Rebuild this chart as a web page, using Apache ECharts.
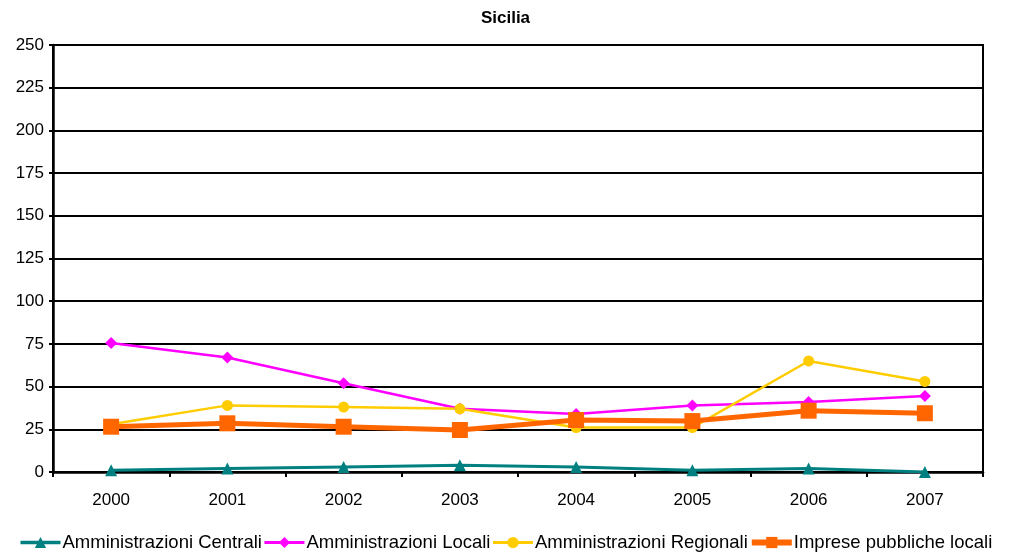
<!DOCTYPE html>
<html><head><meta charset="utf-8">
<script src="https://cdn.jsdelivr.net/npm/echarts@6/dist/echarts.min.js"></script>
<style>html,body{margin:0;padding:0;background:#fff}#c{width:1011px;height:557px}</style>
</head><body><div id="c"></div>
<script>
const years = ['2000','2001','2002','2003','2004','2005','2006','2007'];
const centrali = [1, 2, 3, 4, 3, 1, 2, 0];
const locali = [75.5, 67, 52, 37, 34, 39, 41, 44.5];
const regionali = [28, 39, 38, 37, 26, 26, 65, 53];
const imprese = [26.5, 28.5, 26.5, 24.6, 30.4, 29.8, 35.9, 34.4];
const yTicks = [0, 25, 50, 75, 100, 125, 150, 175, 200, 225, 250];
const names = ['Amministrazioni Centrali', 'Amministrazioni Locali', 'Amministrazioni Regionali', 'Imprese pubbliche locali'];

const font = 'Liberation Sans, Arial, sans-serif';
const chart = echarts.init(document.getElementById('c'));
chart.setOption({
  animation: false,
  title: {text: 'Sicilia', left: 'center', top: 5, textStyle: {fontFamily: font, fontSize: 17, fontWeight: 'bold', color: '#000'}},
  grid: {left: 53, right: 28, top: 45, bottom: 85, show: true, borderColor: '#000', borderWidth: 2},
  xAxis: {
    type: 'category', data: years, boundaryGap: true,
    axisLine: {lineStyle: {color: '#000', width: 2.5}},
    axisTick: {show: true, alignWithLabel: false, length: 5, lineStyle: {color: '#000', width: 2}},
    axisLabel: {fontFamily: font, fontSize: 17, color: '#000', margin: 20}
  },
  yAxis: {
    type: 'value', min: yTicks[0], max: yTicks[yTicks.length-1], interval: 25,
    axisLine: {show: true, lineStyle: {color: '#000', width: 2.5}},
    axisTick: {show: true, length: 4, lineStyle: {color: '#000', width: 2}},
    axisLabel: {fontFamily: font, fontSize: 17, color: '#000', margin: 9},
    splitLine: {lineStyle: {color: '#000', width: 2}}
  },
  legend: {
    bottom: 0, left: 'center', itemGap: 1, itemWidth: 40, itemHeight: 14,
    textStyle: {fontFamily: font, fontSize: 18.5, color: '#000', padding: [0, 0, 0, -3]},
    data: [
      {name: names[0], lineStyle: {width: 3.5}},
      {name: names[1], lineStyle: {width: 3}},
      {name: names[2], lineStyle: {width: 3}},
      {name: names[3], lineStyle: {width: 6}}
    ]
  },
  series: [
    {name: names[0], type: 'line', data: centrali, symbol: 'triangle', symbolSize: 12,
     itemStyle: {color: '#008080'}, lineStyle: {color: '#008080', width: 3}},
    {name: names[1], type: 'line', data: locali, symbol: 'diamond', symbolSize: 12,
     itemStyle: {color: '#FF00FF'}, lineStyle: {color: '#FF00FF', width: 2.5}},
    {name: names[2], type: 'line', data: regionali, symbol: 'circle', symbolSize: 11,
     itemStyle: {color: '#FFCC00'}, lineStyle: {color: '#FFCC00', width: 2.5}},
    {name: names[3], type: 'line', data: imprese, symbol: 'rect', symbolSize: 16,
     itemStyle: {color: '#FF6600'}, lineStyle: {color: '#FF6600', width: 5}}
  ]
});
</script></body></html>
